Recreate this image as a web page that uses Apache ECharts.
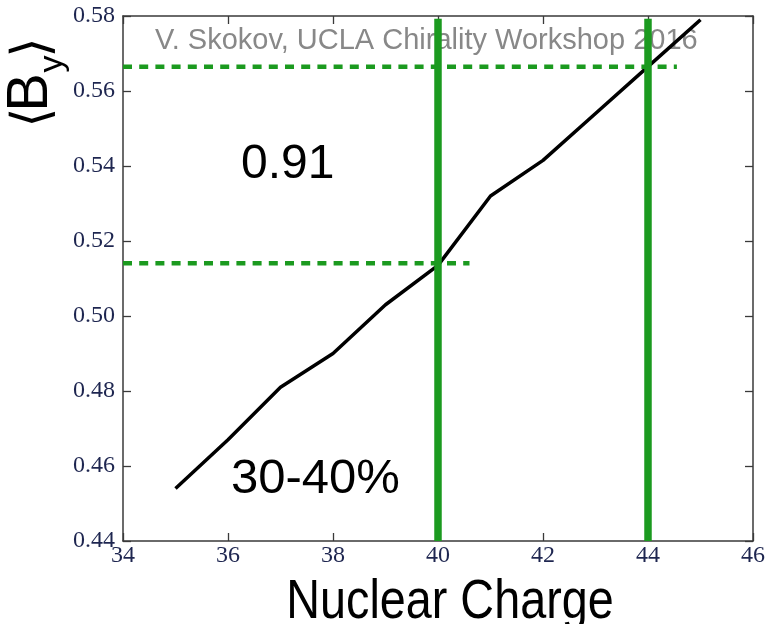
<!DOCTYPE html>
<html>
<head>
<meta charset="utf-8">
<script src="https://cdn.jsdelivr.net/npm/echarts@6/dist/echarts.min.js"></script>
<style>
  html, body { margin: 0; padding: 0; background: #fff; }
  #chart { width: 768px; height: 624px; }
</style>
</head>
<body>
<div id="chart"></div>
<script>
// Mean magnetic field <B_y> versus nuclear charge, 30-40% centrality
const charge = [35, 36, 37, 38, 39, 40, 41, 42, 43, 44, 45];
const meanBy = [0.454, 0.467, 0.481, 0.490, 0.503, 0.5135, 0.532, 0.5415, 0.554, 0.5665, 0.579];

// Reference markers: the two compared charges and their <B_y> levels
const markerCharges = [40, 44];
const markerTop = 0.5793;
const levelLow = { value: 0.5141, until: 40.6 };
const levelHigh = { value: 0.5665, until: 44.55 };

const xTickLabels = ['34', '36', '38', '40', '42', '44', '46'];
const yTickLabels = ['0.44', '0.46', '0.48', '0.50', '0.52', '0.54', '0.56', '0.58'];

const ratioText = '0.91';
const centralityText = '30-40%';
const creditText = 'V. Skokov, UCLA Chirality Workshop 2016';

const X_MIN = 34, X_MAX = 46, X_STEP = 2;
const Y_MIN = 0.44, Y_MAX = 0.58, Y_STEP = 0.02;

const axisColor = '#3a3a3a';
const labelColor = '#1e2650';
const green = '#1b9a1f';

const chart = echarts.init(document.getElementById('chart'), null, { renderer: 'canvas' });

function axisCommon(showLabels) {
  return {
    axisLine: { show: true, lineStyle: { color: axisColor, width: 1.5 } },
    axisTick: { show: true, inside: true, length: 8, lineStyle: { color: axisColor, width: 1.3 } },
    splitLine: { show: false },
    axisLabel: { show: showLabels }
  };
}

const xLabel = v => xTickLabels[Math.round((v - X_MIN) / X_STEP)];
const yLabel = v => yTickLabels[Math.round((v - Y_MIN) / Y_STEP)];

const series = [
  {
    name: 'meanBy',
    type: 'line',
    data: charge.map((c, i) => [c, meanBy[i]]),
    showSymbol: false,
    lineStyle: { color: '#000', width: 3.5 },
    z: 3,
    animation: false
  },
  {
    type: 'line',
    data: [[X_MIN, levelHigh.value], [levelHigh.until, levelHigh.value]],
    showSymbol: false,
    lineStyle: { color: green, width: 4.5, type: [9, 7.2] },
    z: 4,
    animation: false
  },
  {
    type: 'line',
    data: [[X_MIN, levelLow.value], [levelLow.until, levelLow.value]],
    showSymbol: false,
    lineStyle: { color: green, width: 4.5, type: [9, 7.2] },
    z: 4,
    animation: false
  }
];
markerCharges.forEach(c => {
  series.push({
    type: 'line',
    data: [[c, Y_MIN], [c, markerTop]],
    showSymbol: false,
    lineStyle: { color: green, width: 7.5, cap: 'butt' },
    z: 5,
    animation: false
  });
});

const option = {
  animation: false,
  backgroundColor: '#fff',
  grid: { left: 123, right: 10, top: 16, bottom: 83, containLabel: false },
  xAxis: [
    Object.assign(axisCommon(true), {
      type: 'value', min: X_MIN, max: X_MAX, interval: X_STEP, position: 'bottom',
      axisLabel: {
        show: true, formatter: xLabel, margin: 3,
        fontFamily: 'Liberation Serif', fontSize: 24, color: labelColor
      }
    }),
    Object.assign(axisCommon(false), {
      type: 'value', min: X_MIN, max: X_MAX, interval: X_STEP, position: 'top'
    })
  ],
  yAxis: [
    Object.assign(axisCommon(true), {
      type: 'value', min: Y_MIN, max: Y_MAX, interval: Y_STEP, position: 'left',
      axisLabel: {
        show: true, formatter: yLabel, margin: 8,
        fontFamily: 'Liberation Serif', fontSize: 24, color: labelColor
      }
    }),
    Object.assign(axisCommon(false), {
      type: 'value', min: Y_MIN, max: Y_MAX, interval: Y_STEP, position: 'right'
    })
  ],
  series: series,
  graphic: [
    {
      type: 'text', left: 155, top: 26, z: 0,
      style: { text: creditText, fill: '#888888', font: '29px "Liberation Sans"' }
    },
    {
      type: 'text', x: 241, y: 165, z: 10,
      style: { text: ratioText, fill: '#000', font: '48px "Liberation Sans"', align: 'left', verticalAlign: 'middle' }
    },
    {
      type: 'text', x: 231, y: 479, z: 10,
      style: { text: centralityText, fill: '#000', font: '49px "Liberation Sans"', align: 'left', verticalAlign: 'middle' }
    },
    {
      type: 'text', x: 450, y: 603, scaleX: 0.85, z: 10,
      style: { text: 'Nuclear Charge', fill: '#000', font: '55px "Liberation Sans"', align: 'center', verticalAlign: 'middle' }
    },
    {
      // rotated axis title <B_y>
      type: 'group', x: 52, y: 125, rotation: Math.PI / 2, z: 10,
      children: [
        { type: 'text', x: 7.5, y: -18,
          style: { text: '\u27E8', fill: '#000', font: '52px "DejaVu Sans"', align: 'center', verticalAlign: 'middle' } },
        { type: 'text', x: 32.5, y: -21,
          style: { text: 'B', fill: '#000', font: '58px "Liberation Sans"', align: 'center', verticalAlign: 'middle' } },
        { type: 'text', x: 61, y: 1,
          style: { text: 'y', fill: '#000', font: '34px "Liberation Sans"', align: 'center', verticalAlign: 'middle' } },
        { type: 'text', x: 77.5, y: -18,
          style: { text: '\u27E9', fill: '#000', font: '52px "DejaVu Sans"', align: 'center', verticalAlign: 'middle' } }
      ]
    }
  ]
};

chart.setOption(option);
</script>
</body>
</html>
